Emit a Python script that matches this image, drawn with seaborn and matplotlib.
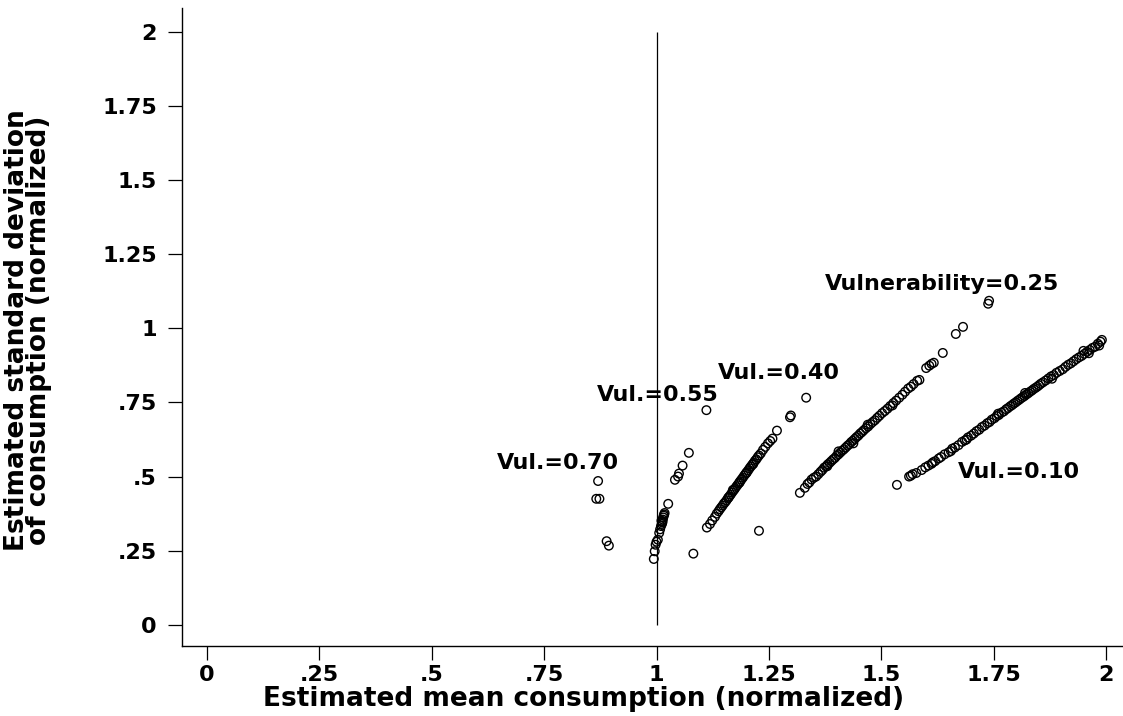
import matplotlib
matplotlib.use("Agg")
import matplotlib.pyplot as plt
import seaborn as sns
import pandas as pd

# mean / sd pairs, one group per vulnerability level
x_v10 = [1.535, 1.562, 1.566, 1.570, 1.578, 1.590, 1.598, 1.605, 1.612, 1.620,
         1.628, 1.633, 1.641, 1.650, 1.658, 1.664, 1.672, 1.680, 1.686, 1.693,
         1.700, 1.706, 1.712, 1.718, 1.724, 1.730, 1.736, 1.741, 1.746, 1.752,
         1.757, 1.762, 1.768, 1.773, 1.778, 1.782, 1.787, 1.791, 1.795, 1.799,
         1.803, 1.807, 1.811, 1.815, 1.819, 1.823, 1.827, 1.831, 1.835, 1.839,
         1.843, 1.847, 1.851, 1.855, 1.860, 1.866, 1.872, 1.878, 1.884, 1.890,
         1.897, 1.904, 1.910, 1.916, 1.922, 1.928, 1.934, 1.940, 1.946, 1.952,
         1.958, 1.964, 1.970, 1.976, 1.982, 1.988, 1.991, 1.985, 1.962, 1.950,
         1.880, 1.820, 1.760, 1.690, 1.655, 1.615]
y_v10 = [0.472, 0.500, 0.503, 0.508, 0.512, 0.522, 0.531, 0.537, 0.543, 0.552,
         0.561, 0.566, 0.575, 0.582, 0.594, 0.598, 0.606, 0.617, 0.622, 0.632,
         0.638, 0.645, 0.653, 0.658, 0.667, 0.672, 0.680, 0.684, 0.692, 0.697,
         0.704, 0.708, 0.716, 0.720, 0.727, 0.731, 0.737, 0.741, 0.746, 0.750,
         0.755, 0.759, 0.764, 0.768, 0.772, 0.777, 0.781, 0.786, 0.790, 0.795,
         0.799, 0.803, 0.808, 0.813, 0.818, 0.824, 0.831, 0.838, 0.842, 0.850,
         0.856, 0.862, 0.870, 0.877, 0.882, 0.889, 0.896, 0.902, 0.907, 0.914,
         0.921, 0.927, 0.934, 0.938, 0.948, 0.955, 0.961, 0.942, 0.916, 0.924,
         0.830, 0.782, 0.712, 0.625, 0.586, 0.548]

x_v25 = [1.319, 1.330, 1.336, 1.340, 1.345, 1.350, 1.355, 1.360, 1.365, 1.369,
         1.373, 1.377, 1.381, 1.385, 1.389, 1.393, 1.397, 1.401, 1.405, 1.409,
         1.413, 1.417, 1.421, 1.425, 1.429, 1.433, 1.437, 1.441, 1.445, 1.449,
         1.453, 1.457, 1.461, 1.466, 1.471, 1.476, 1.481, 1.486, 1.491, 1.496,
         1.502, 1.508, 1.514, 1.520, 1.527, 1.533, 1.540, 1.547, 1.553, 1.560,
         1.566, 1.572, 1.580, 1.585, 1.600, 1.607, 1.612, 1.617, 1.637, 1.666,
         1.682, 1.738, 1.740, 1.405, 1.438, 1.470, 1.525, 1.380]
y_v25 = [0.445, 0.462, 0.475, 0.480, 0.490, 0.496, 0.500, 0.508, 0.516, 0.522,
         0.530, 0.534, 0.541, 0.546, 0.552, 0.558, 0.563, 0.570, 0.575, 0.581,
         0.587, 0.592, 0.598, 0.604, 0.609, 0.616, 0.621, 0.627, 0.633, 0.638,
         0.645, 0.650, 0.656, 0.663, 0.669, 0.677, 0.684, 0.690, 0.698, 0.705,
         0.714, 0.721, 0.729, 0.738, 0.748, 0.756, 0.766, 0.776, 0.786, 0.797,
         0.803, 0.812, 0.823, 0.826, 0.866, 0.874, 0.880, 0.884, 0.917, 0.981,
         1.005, 1.083, 1.093, 0.585, 0.612, 0.675, 0.740, 0.535]

x_v40 = [1.112, 1.119, 1.124, 1.130, 1.134, 1.138, 1.141, 1.144, 1.147, 1.150,
         1.153, 1.156, 1.159, 1.162, 1.165, 1.168, 1.171, 1.174, 1.177, 1.180,
         1.183, 1.186, 1.189, 1.192, 1.195, 1.198, 1.201, 1.204, 1.207, 1.210,
         1.213, 1.216, 1.219, 1.222, 1.225, 1.228, 1.232, 1.237, 1.242, 1.248,
         1.253, 1.258, 1.268, 1.297, 1.299, 1.333, 1.228, 1.185, 1.200, 1.170,
         1.215, 1.160]
y_v40 = [0.328, 0.340, 0.352, 0.364, 0.375, 0.383, 0.390, 0.396, 0.402, 0.409,
         0.414, 0.420, 0.427, 0.433, 0.439, 0.446, 0.452, 0.458, 0.465, 0.471,
         0.477, 0.484, 0.490, 0.496, 0.503, 0.509, 0.515, 0.521, 0.528, 0.534,
         0.540, 0.546, 0.553, 0.558, 0.565, 0.571, 0.578, 0.590, 0.600, 0.612,
         0.620, 0.628, 0.655, 0.700, 0.706, 0.766, 0.317, 0.480, 0.512, 0.455,
         0.542, 0.429]

x_v55 = [0.994, 0.996, 0.998, 1.000, 1.003, 1.006, 1.008, 1.010, 1.012, 1.013,
         1.014, 1.015, 1.016, 1.017, 1.018, 1.013, 1.011, 1.026, 1.041, 1.048,
         1.050, 1.058, 1.072, 1.082, 1.111]
y_v55 = [0.222, 0.248, 0.270, 0.280, 0.287, 0.310, 0.322, 0.333, 0.340, 0.348,
         0.355, 0.362, 0.368, 0.372, 0.377, 0.345, 0.351, 0.408, 0.489, 0.500,
         0.510, 0.537, 0.580, 0.240, 0.724]

x_v70 = [0.870, 0.866, 0.873, 0.889, 0.894]
y_v70 = [0.485, 0.425, 0.425, 0.282, 0.267]

labels = ["Vul.=0.70", "Vul.=0.55", "Vul.=0.40", "Vulnerability=0.25", "Vul.=0.10"]
label_x = [0.645, 0.868, 1.136, 1.374, 1.670]
label_y = [0.545, 0.775, 0.848, 1.148, 0.515]

ticks = [0, 0.25, 0.5, 0.75, 1, 1.25, 1.5, 1.75, 2]
tick_labels = ["0", ".25", ".5", ".75", "1", "1.25", "1.5", "1.75", "2"]


def main():
    sns.set_style("ticks")
    plt.rcParams['font.family'] = ['DejaVu Sans']
    plt.rcParams['font.weight'] = 'bold'
    for key in ['text.color', 'axes.labelcolor', 'xtick.color', 'ytick.color',
                'axes.edgecolor']:
        plt.rcParams[key] = 'black'

    frames = []
    for name, xs, ys in [("0.10", x_v10, y_v10), ("0.25", x_v25, y_v25),
                         ("0.40", x_v40, y_v40), ("0.55", x_v55, y_v55),
                         ("0.70", x_v70, y_v70)]:
        frames.append(pd.DataFrame({"mean": xs, "sd": ys, "vul": name}))
    df = pd.concat(frames, ignore_index=True)

    fig = plt.figure(figsize=(11.23, 7.16), dpi=100)
    ax = fig.add_axes([0.162, 0.098, 0.838, 0.891])

    sns.scatterplot(data=df, x="mean", y="sd", ax=ax, s=38, marker="o",
                    facecolor="none", edgecolor="black", linewidth=1.0,
                    legend=False)

    # reference line at mean = 1
    ax.vlines(1, 0, 2, color="black", linewidth=0.9)

    fs = 16
    for txt, lx, ly in zip(labels, label_x, label_y):
        ax.text(lx, ly, txt, fontsize=fs, fontweight="bold", va="center", ha="left")

    ax.set_xlim(-0.056, 2.038)
    ax.set_ylim(-0.071, 2.081)
    ax.set_xticks(ticks)
    ax.set_xticklabels(tick_labels)
    ax.set_yticks(ticks)
    ax.set_yticklabels(tick_labels)
    ax.tick_params(axis="both", length=10, width=0.9, labelsize=fs,
                   direction="out", color="black")
    ax.tick_params(axis="x", pad=4)
    ax.tick_params(axis="y", pad=8)
    for lab in ax.get_xticklabels() + ax.get_yticklabels():
        lab.set_fontweight("bold")

    ax.set_xlabel("Estimated mean consumption (normalized)", fontsize=19,
                  fontweight="bold")
    ax.set_ylabel("Estimated standard deviation\nof consumption (normalized)",
                  fontsize=19, fontweight="bold", linespacing=0.8)
    ax.xaxis.set_label_coords(0.427, -0.063)
    ax.yaxis.set_label_coords(-0.138, 0.495)

    sns.despine(ax=ax)
    for sp in ["left", "bottom"]:
        ax.spines[sp].set_linewidth(1.0)

    fig.savefig("out.png", dpi=100)


if __name__ == "__main__":
    main()
